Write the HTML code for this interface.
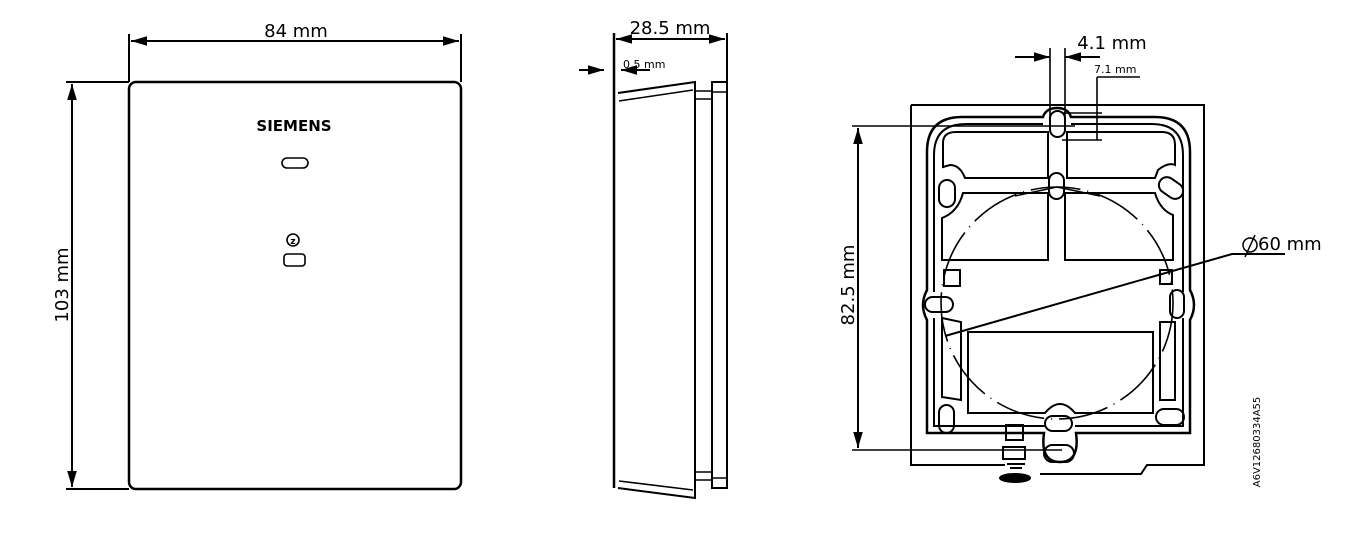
<!DOCTYPE html>
<html><head><meta charset="utf-8"><style>
html,body{margin:0;padding:0;background:#fff;}
svg{display:block;}
text{font-family:"DejaVu Sans","Liberation Sans",sans-serif;fill:#000;}
</style></head><body>
<svg width="1356" height="542" viewBox="0 0 1356 542" xmlns="http://www.w3.org/2000/svg">
<defs>
<marker id="a" viewBox="0 0 10 6" refX="10" refY="3" markerWidth="8" markerHeight="5" orient="auto-start-reverse"><path d="M0,0L10,3L0,6z" fill="#000"/></marker>
</defs>
<g fill="none" stroke="#000" stroke-width="2">
<!-- FRONT VIEW -->
<rect x="129" y="82" width="332" height="407" rx="7" stroke-width="2.5"/>
<line x1="129" y1="34" x2="129" y2="82"/>
<line x1="461" y1="34" x2="461" y2="82"/>
<line x1="131" y1="41" x2="459" y2="41" marker-start="url(#a)" marker-end="url(#a)"/>
<line x1="66" y1="82" x2="129" y2="82"/>
<line x1="66" y1="489" x2="129" y2="489"/>
<line x1="72" y1="84" x2="72" y2="487" marker-start="url(#a)" marker-end="url(#a)"/>
<rect x="282" y="158" width="26" height="10" rx="5" stroke-width="1.6"/>
<circle cx="293" cy="240" r="6" stroke-width="1.6"/>
<rect x="284" y="254" width="21" height="12" rx="3" stroke-width="1.6"/>

<!-- SIDE VIEW -->
<line x1="614" y1="33" x2="614" y2="488" stroke-width="2.5"/>
<line x1="727" y1="33" x2="727" y2="82"/>
<line x1="616" y1="39" x2="725" y2="39" marker-start="url(#a)" marker-end="url(#a)"/>
<line x1="579" y1="70" x2="604" y2="70" marker-end="url(#a)"/>
<line x1="650" y1="70" x2="621" y2="70" marker-end="url(#a)"/>
<path d="M618,93 L695,82 L695,498 L618,488"/>
<line x1="619" y1="101" x2="693" y2="90" stroke-width="1.6"/>
<line x1="619" y1="481" x2="693" y2="490" stroke-width="1.6"/>
<rect x="712" y="82" width="15" height="406" stroke-width="2"/>
<line x1="712" y1="92" x2="727" y2="92" stroke-width="1.5"/>
<line x1="712" y1="478" x2="727" y2="478" stroke-width="1.5"/>
<line x1="695" y1="91" x2="712" y2="91" stroke-width="1.5"/>
<line x1="695" y1="99" x2="712" y2="99" stroke-width="1.5"/>
<line x1="695" y1="472" x2="712" y2="472" stroke-width="1.5"/>
<line x1="695" y1="480" x2="712" y2="480" stroke-width="1.5"/>

<!-- BACK PLATE -->
<path d="M911,105 L1204,105 L1204,465 L1147,465 L1141,474 L1040,474"/>
<path d="M911,105 L911,465 L1005,465"/>
<!-- frame outer/inner -->
<path d="M962,117 L1043,117 Q1046,108 1057,108 Q1068,108 1071,117 L1155,117 Q1190,117 1190,152 L1190,290 Q1198,305 1190,320 L1190,433 L1076,433 Q1080,462 1060,462 Q1040,462 1044,433 L927,433 L927,320 Q919,305 927,290 L927,152 Q927,117 962,117 Z" stroke-width="2.5"/>
<path d="M966,124 L1043,124 M1071,124 L1152,124 Q1183,124 1183,155 L1183,292 M1183,318 L1183,426 L1075,426 M1045,426 L934,426 L934,318 M934,292 L934,155 Q934,124 966,124" stroke-width="2"/>
<!-- top cells -->
<path d="M943,143 Q943,132 956,132 L1048,132 L1048,178 L965,178 Q960,165 950,165 L943,167 Z" stroke-width="2"/>
<path d="M1067,132 L1162,132 Q1175,132 1175,145 L1175,165 Q1168,162 1158,170 L1155,178 L1067,178 Z" stroke-width="2"/>
<path d="M963,193 L1048,193 L1048,260 L942,260 L942,218 Q958,212 963,193 Z" stroke-width="2"/>
<path d="M1065,193 L1155,193 Q1160,210 1173,215 L1173,260 L1065,260 Z" stroke-width="2"/>
<path d="M968,332 L1153,332 L1153,413 L1075,413 Q1060,395 1045,413 L968,413 Z" stroke-width="2"/>
<path d="M942,318 L961,322 L961,400 L942,397 Z" stroke-width="2"/>
<rect x="1160" y="322" width="15" height="78" stroke-width="2"/>
<!-- slots -->
<rect x="1050" y="111" width="15" height="26" rx="7.5" stroke-width="2"/>
<rect x="1049" y="173" width="15" height="26" rx="7.5" stroke-width="2"/>
<rect x="939" y="180" width="16" height="27" rx="8" stroke-width="2"/>
<rect x="1158" y="180" width="26" height="16" rx="8" transform="rotate(35 1171 188)" stroke-width="2"/>
<rect x="925" y="297" width="28" height="15" rx="7.5" stroke-width="2"/>
<rect x="1170" y="290" width="14" height="28" rx="7" stroke-width="2"/>
<rect x="939" y="405" width="15" height="28" rx="7.5" stroke-width="2"/>
<rect x="1156" y="409" width="28" height="16" rx="8" stroke-width="2"/>
<rect x="1045" y="416" width="27" height="15" rx="7.5" stroke-width="2"/>
<rect x="1044" y="445" width="30" height="17" rx="8.5" stroke-width="2"/>
<line x1="1057" y1="187" x2="1015" y2="196" stroke-width="1.5"/>
<line x1="1057" y1="187" x2="1100" y2="196" stroke-width="1.5"/>
<rect x="944" y="270" width="16" height="16" stroke-width="2"/>
<rect x="1160" y="270" width="12" height="14" stroke-width="2"/>
<rect x="1006" y="425" width="17" height="15" stroke-width="2"/>
<rect x="1003" y="447" width="22" height="12" stroke-width="2"/>
<path d="M1007,464 L1025,464 M1010,468 L1022,468" stroke-width="2"/>
<ellipse cx="1015" cy="478" rx="15" ry="4" fill="#000"/>
<!-- circle -->
<circle cx="1057" cy="303" r="116" stroke-width="1.6" stroke-dasharray="50 7 1 7"/>
<!-- dims -->
<line x1="852" y1="126" x2="1075" y2="126" stroke-width="1.6"/>
<line x1="852" y1="450" x2="1062" y2="450" stroke-width="1.6"/>
<line x1="858" y1="128" x2="858" y2="448" marker-start="url(#a)" marker-end="url(#a)"/>
<line x1="1050" y1="48" x2="1050" y2="118" stroke-width="1.6"/>
<line x1="1065" y1="48" x2="1065" y2="118" stroke-width="1.6"/>
<line x1="1015" y1="57" x2="1050" y2="57" marker-end="url(#a)"/>
<line x1="1100" y1="57" x2="1065" y2="57" marker-end="url(#a)"/>
<line x1="1097" y1="77" x2="1140" y2="77" stroke-width="1.6"/>
<line x1="1097" y1="77" x2="1097" y2="140" stroke-width="1.6"/>
<line x1="1062" y1="113" x2="1102" y2="113" stroke-width="1.6"/>
<line x1="1062" y1="140" x2="1102" y2="140" stroke-width="1.6"/>
<polyline points="945,336 1232,254 1285,254" stroke-width="2"/>
<line x1="1245" y1="257" x2="1255" y2="235" stroke-width="1.5"/>
</g>
<text x="296" y="37" font-size="18" text-anchor="middle">84 mm</text>
<text transform="translate(68,285) rotate(-90)" font-size="18" text-anchor="middle">103 mm</text>
<text x="294" y="131" font-size="15" font-weight="bold" text-anchor="middle" font-family="Liberation Sans">SIEMENS</text>
<text x="293" y="244" font-size="9" font-weight="bold" text-anchor="middle">z</text>
<text x="670" y="34" font-size="18" text-anchor="middle">28.5 mm</text>
<text x="623" y="68" font-size="11">0.5 mm</text>
<text x="1112" y="49" font-size="18" text-anchor="middle">4.1 mm</text>
<text x="1094" y="73" font-size="11">7.1 mm</text>
<text transform="translate(854,285) rotate(-90)" font-size="18" text-anchor="middle">82.5 mm</text>
<text x="1258" y="250" font-size="18">60 mm</text>
<circle cx="1250" cy="245" r="7" fill="none" stroke="#000" stroke-width="1.5"/>
<text transform="translate(1260,442) rotate(-90)" font-size="10" text-anchor="middle" font-family="Liberation Sans">A6V12680334A55</text>
</svg>
</body></html>
